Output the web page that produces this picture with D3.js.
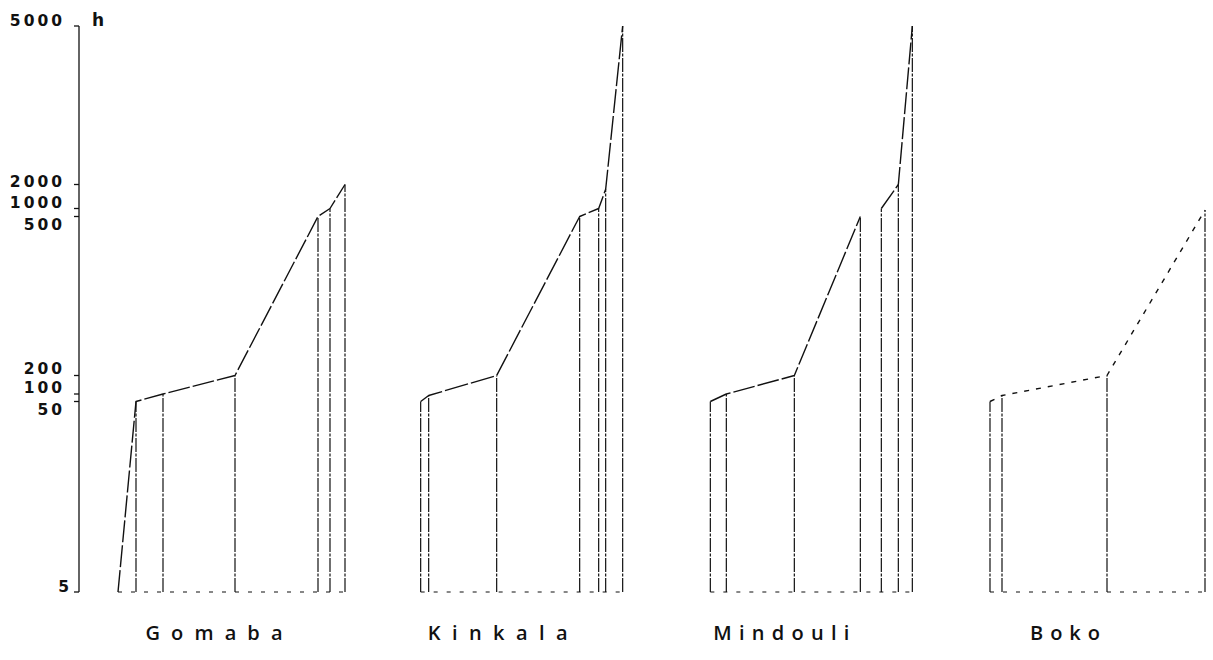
<!DOCTYPE html>
<html>
<head>
<meta charset="utf-8">
<script src="https://cdn.jsdelivr.net/npm/d3@7/dist/d3.min.js"></script>
<style>
  html, body { margin: 0; padding: 0; background: #fff; }
  svg { display: block; }
</style>
</head>
<body>
<svg id="chart" width="1213" height="660"></svg>
<script>
// ---------------- DATA ----------------
const sites = ["Gomaba", "Kinkala", "Mindouli", "Boko"];
const yTickValues = [5, 50, 100, 200, 500, 1000, 2000, 5000];
const yTickLabels = ["5", "50", "100", "200", "500", "1000", "2000", "5000"];
const yUnit = "h";

// position of each station relative to the site's centre (arbitrary units)
const gomabaPos   = [-96, -78, -51, 21, 104, 116, 131];
const gomabaHours = [5, 50, 100, 200, 500, 1000, 2000];
const kinkalaPos   = [-77, -69, -1, 82, 101, 108, 125];
const kinkalaHours = [50, 90, 200, 500, 1000, 1800, 5000];
const mindouliPos   = [-71, -55, 13, 79, 100, 117, 131];
const mindouliHours = [50, 100, 200, 500, 1000, 2000, 5000];
const bokoPos   = [-75, -63, 42, 140];
const bokoHours = [50, 90, 200, 900];
// profile is interrupted after these point indices
const mindouliGaps = [3];

// ---------------- LAYOUT ----------------
const svg = d3.select("#chart");
// piecewise axis as drawn in the original figure
const yTickPixels = [592, 401.5, 394, 375.5, 216.5, 208.5, 184.5, 26];
const y = d3.scaleLinear().domain(yTickValues).range(yTickPixels);

const siteX = d3.scalePoint().domain(sites).range([214, 1065]);
const off = d3.scaleLinear().domain([0, 100]).range([0, 100]);

const series = [
  { site: "Gomaba",   pos: gomabaPos,   hours: gomabaHours,   gaps: [] },
  { site: "Kinkala",  pos: kinkalaPos,  hours: kinkalaHours,  gaps: [] },
  { site: "Mindouli", pos: mindouliPos, hours: mindouliHours, gaps: mindouliGaps },
  { site: "Boko",     pos: bokoPos,     hours: bokoHours,     gaps: [] }
];

const ink = "#111";
const axisX = 79;

// Y axis
svg.append("line")
  .attr("x1", axisX).attr("x2", axisX)
  .attr("y1", y(5000)).attr("y2", y(5))
  .attr("stroke", ink).attr("stroke-width", 1.3);

const labelNudge = { "5": -5, "50": 8, "100": -6, "200": -7, "500": 8, "1000": -6, "2000": -3, "5000": -5 };
const labelRight = { "5": 69 };

yTickValues.forEach((v, i) => {
  svg.append("line")
    .attr("x1", axisX - 5).attr("x2", axisX)
    .attr("y1", y(v)).attr("y2", y(v))
    .attr("stroke", ink).attr("stroke-width", 1.3);
  const lab = yTickLabels[i];
  svg.append("text")
    .attr("x", (labelRight[lab] || 62) + 3)
    .attr("y", y(v) + labelNudge[lab])
    .attr("text-anchor", "end")
    .attr("dominant-baseline", "central")
    .attr("font-family", "DejaVu Sans, sans-serif")
    .attr("font-weight", "bold")
    .attr("font-size", 15.5)
    .attr("letter-spacing", 3)
    .attr("fill", ink)
    .text(lab);
});

svg.append("text")
  .attr("x", 92).attr("y", y(5000) - 6)
  .attr("dominant-baseline", "central")
  .attr("font-family", "DejaVu Sans, sans-serif")
  .attr("font-weight", "bold")
  .attr("font-size", 17)
  .attr("fill", ink)
  .text(yUnit);

// Site panels
const labelWidth = { Gomaba: 137, Kinkala: 140, Mindouli: 136, Boko: 70 };
const profileDash = { Gomaba: "22,3", Kinkala: "24,3", Mindouli: "22,3", Boko: "5,7" };

series.forEach(s => {
  const cx = siteX(s.site);
  const pts = s.pos.map((p, i) => ({ x: cx + off(p), y: y(s.hours[i]), v: s.hours[i] }));
  const g = svg.append("g");

  // baseline (dotted)
  g.append("line")
    .attr("x1", pts[0].x).attr("x2", pts[pts.length - 1].x)
    .attr("y1", y(5)).attr("y2", y(5))
    .attr("stroke", ink).attr("stroke-width", 1.1)
    .attr("stroke-dasharray", "4,9");

  // vertical bars
  g.selectAll("line.v").data(pts.filter(d => d.v > 5)).join("line")
    .attr("class", "v")
    .attr("x1", d => d.x).attr("x2", d => d.x)
    .attr("y1", y(5)).attr("y2", d => d.y)
    .attr("stroke", ink).attr("stroke-width", 1.2)
    .attr("stroke-dasharray", "14,1.5,3,1.5");

  // profile line, split at gaps
  const segs = [];
  let cur = [pts[0]];
  for (let i = 1; i < pts.length; i++) {
    if (s.gaps.includes(i - 1)) { segs.push(cur); cur = [pts[i]]; }
    else cur.push(pts[i]);
  }
  segs.push(cur);
  const line = d3.line().x(d => d.x).y(d => d.y);
  segs.filter(sg => sg.length > 1).forEach(sg => {
    g.append("path")
      .attr("d", line(sg))
      .attr("fill", "none")
      .attr("stroke", ink).attr("stroke-width", 1.4)
      .attr("stroke-linejoin", "round")
      .attr("stroke-dasharray", profileDash[s.site]);
  });

  // site name
  g.append("text")
    .attr("x", cx).attr("y", 640)
    .attr("text-anchor", "middle")
    .attr("font-family", "Open Sans, DejaVu Sans, sans-serif")
    .attr("font-weight", 600)
    .attr("font-size", 20)
    .attr("textLength", labelWidth[s.site])
    .attr("lengthAdjust", "spacing")
    .attr("fill", ink)
    .text(s.site);
});
</script>
</body>
</html>
